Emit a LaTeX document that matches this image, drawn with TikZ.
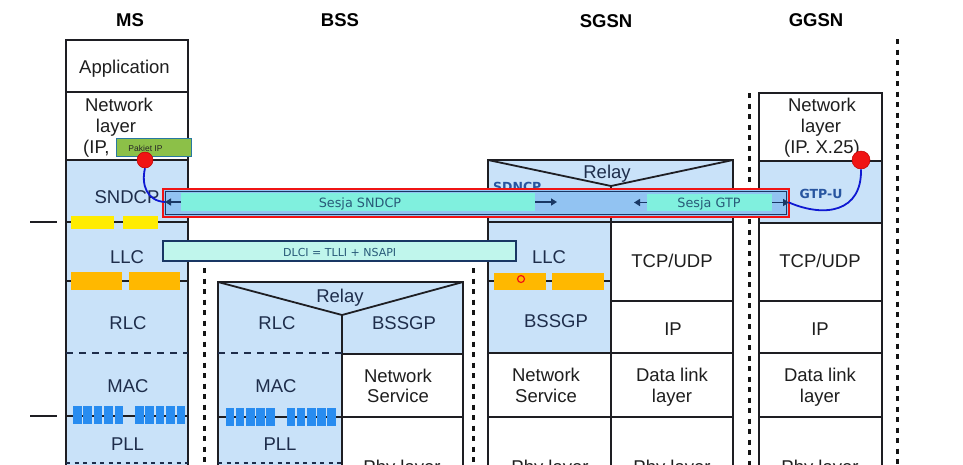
\documentclass[tikz,border=0pt]{standalone}
\usepackage{fontspec}
\setmainfont{Liberation Sans}
\newfontfamily\vfont{DejaVu Sans}
\usetikzlibrary{arrows.meta}
\definecolor{layB}{RGB}{201,226,249}
\definecolor{lineC}{RGB}{30,30,35}
\definecolor{txtB}{RGB}{30,45,75}
\definecolor{txtW}{RGB}{30,30,30}
\definecolor{barB}{RGB}{146,195,242}
\definecolor{cyanB}{RGB}{128,240,222}
\definecolor{cyanL}{RGB}{192,246,236}
\definecolor{navy}{RGB}{25,55,100}
\definecolor{tealT}{RGB}{40,90,120}
\definecolor{pakG}{RGB}{140,192,72}
\definecolor{pakE}{RGB}{40,120,160}
\definecolor{yel}{RGB}{255,236,0}
\definecolor{ora}{RGB}{255,184,0}
\definecolor{blk}{RGB}{40,140,240}
\definecolor{curveB}{RGB}{15,25,210}
\definecolor{gtpT}{RGB}{40,85,160}
\definecolor{dotC}{RGB}{20,20,20}
\definecolor{redC}{RGB}{240,20,20}
\tikzset{
  lyr/.style={draw=lineC, line width=1.8pt},
  dashl/.style={draw=txtB, line width=1.6pt, dash pattern=on 7pt off 6pt},
  dotl/.style={draw=txtB, line width=1.5pt, dash pattern=on 4pt off 4.5pt},
  vdot/.style={draw=dotC, line width=3pt, dash pattern=on 5pt off 5.5pt},
  lbl/.style={anchor=base, inner sep=0pt, font=\fontsize{18.5}{21}\selectfont},
  lb/.style={lbl, text=txtB},
  lw/.style={lbl, text=txtW},
  hdr/.style={anchor=base, inner sep=0pt, font=\bfseries\fontsize{18.5}{21}\selectfont, text=black},
  arr/.style={draw=navy, line width=1.8pt, -{Triangle[length=6pt,width=7pt]}},
  curve/.style={draw=curveB, line width=1.8pt},
  reddot/.style={circle, fill=redC, draw=red!75!black, line width=0.5pt, inner sep=0pt},
  session/.style={fill=cyanB, inner sep=0pt, outer sep=0pt, anchor=north west},
  stxt/.style={anchor=base, inner sep=0pt, font=\vfont\fontsize{12.8}{14}\selectfont, text=tealT},
}
\begin{document}
\begin{tikzpicture}[x=1pt,y=-1pt]
\useasboundingbox (0,0) rectangle (963,464);
\clip (0,0) rectangle (963,464);
% ---------------- headers
\node[hdr] (hMS) at (130,26) {MS};
\node[hdr] (hBSS) at (340,26) {BSS};
\node[hdr] (hSGSN) at (606,27) {SGSN};
\node[hdr] (hGGSN) at (816,26) {GGSN};
% ---------------- MS column
\fill[white] (66,40) rectangle (188,160);
\fill[layB] (66,160) rectangle (188,480);
\draw[lyr] (66,480) -- (66,40) -- (188,40) -- (188,480);
\draw[lyr] (66,92) -- (188,92);
\draw[lyr] (66,160) -- (188,160);
\draw[lyr] (66,222) -- (188,222);
\draw[lyr] (66,281) -- (188,281);
\draw[dashl] (66,353) -- (188,353);
\draw[lyr] (66,416) -- (188,416);
\draw[dotl] (66,463) -- (188,463);
\draw[lyr] (30,222) -- (57,222);
\draw[lyr] (30,416) -- (57,416);
\fill[yel] (71,216) rectangle (114,229);
\fill[yel] (123,216) rectangle (158,229);
\fill[ora] (71,272) rectangle (122,290);
\fill[ora] (129,272) rectangle (180,290);
\foreach \i in {0,...,4} {
  \fill[blk] ({73+\i*10.4},406) rectangle ++(8.5,18);
  \fill[blk] ({135+\i*10.4},406) rectangle ++(8.5,18);
}
\node[lw] (tApp) at (124.5,73) {Application};
\node[lw] (tMSnet1) at (119,111) {Network};
\node[lw] (tMSnet2) at (116,132) {layer};
\node[lw, anchor=base west] (tMSnet3) at (83,153) {(IP,};
\node[lb] (tMSsndcp) at (127,203.5) {SNDCP};
\node[lb] (tMSllc) at (127,263) {LLC};
\node[lb] (tMSrlc) at (128,329) {RLC};
\node[lb] (tMSmac) at (128,392) {MAC};
\node[lb] (tMSpll) at (127.5,450) {PLL};
% ---------------- BSS column
\fill[layB] (218,282) rectangle (463,354);
\fill[layB] (218,354) rectangle (342,480);
\fill[white] (342,354) rectangle (463,480);
\draw[lyr] (218,480) -- (218,282) -- (463,282) -- (463,480);
\draw[lyr] (218,282) -- (342,315) -- (463,282);
\draw[lyr] (342,315) -- (342,480);
\draw[lyr] (342,354) -- (463,354);
\draw[lyr] (342,417) -- (463,417);
\draw[dashl] (218,353) -- (342,353);
\draw[lyr] (218,417) -- (342,417);
\draw[dotl] (218,463) -- (342,463);
\foreach \i in {0,...,4} {
  \fill[blk] ({226+\i*10.1},408) rectangle ++(8.3,18);
  \fill[blk] ({287+\i*10.1},408) rectangle ++(8.3,18);
}
\node[lb] (tBrelay) at (340,302) {Relay};
\node[lb] (tBrlc) at (277,329) {RLC};
\node[lb] (tBbssgp) at (404,329) {BSSGP};
\node[lb] (tBmac) at (276,392) {MAC};
\node[lb] (tBpll) at (280,450) {PLL};
\node[lw] (tBns1) at (398,382) {Network};
\node[lw] (tBns2) at (398,402) {Service};
\node[lw] (tBphy) at (402,473) {Phy layer};
% ---------------- SGSN column
\fill[layB] (488,160) rectangle (733,222);
\fill[layB] (488,222) rectangle (611,353);
\fill[white] (611,222) rectangle (733,480);
\fill[white] (488,353) rectangle (611,480);
\draw[lyr] (488,480) -- (488,160) -- (733,160) -- (733,480);
\draw[lyr] (488,160) -- (611,186) -- (733,160);
\draw[lyr] (611,186) -- (611,480);
\draw[lyr] (488,222) -- (733,222);
\draw[lyr] (488,281) -- (611,281);
\draw[lyr] (611,301) -- (733,301);
\draw[lyr] (488,353) -- (733,353);
\draw[lyr] (488,417) -- (733,417);
\fill[ora] (494,273) rectangle (546,290);
\fill[ora] (552,273) rectangle (604,290);
\node[draw=redC, circle, line width=1.2pt, minimum size=7pt, inner sep=0pt] (cursor) at (521,279) {};
\node[anchor=north west, inner sep=0pt, font=\vfont\bfseries\fontsize{12.5}{14}\selectfont, text=gtpT] (tSdncp) at (493,182) {SDNCP};
\node[lb] (tSrelay) at (607,178) {Relay};
\node[lb] (tSllc) at (549,263) {LLC};
\node[lb] (tSbssgp) at (556,327) {BSSGP};
\node[lw] (tSns1) at (546,381) {Network};
\node[lw] (tSns2) at (546,402) {Service};
\node[lw] (tSphy1) at (550,473) {Phy layer};
\node[lw] (tStcp) at (672,267) {TCP/UDP};
\node[lw] (tSip) at (673,335) {IP};
\node[lw] (tSdl1) at (672,381) {Data link};
\node[lw] (tSdl2) at (672,402) {layer};
\node[lw] (tSphy2) at (672,473) {Phy layer};
% ---------------- GGSN column
\fill[white] (759,93) rectangle (882,161);
\fill[layB] (759,161) rectangle (882,223);
\fill[white] (759,223) rectangle (882,480);
\draw[lyr] (759,480) -- (759,93) -- (882,93) -- (882,480);
\draw[lyr] (759,161) -- (882,161);
\draw[lyr] (759,223) -- (882,223);
\draw[lyr] (759,301) -- (882,301);
\draw[lyr] (759,353) -- (882,353);
\draw[lyr] (759,417) -- (882,417);
\node[lw] (tGnet1) at (822,111) {Network};
\node[lw] (tGnet2) at (821,132) {layer};
\node[lw] (tGnet3) at (822,153) {(IP. X.25)};
\node[anchor=base, inner sep=0pt, font=\vfont\bfseries\fontsize{12.5}{14}\selectfont, text=gtpT] (tGtpu) at (821,198) {GTP-U};
\node[lw] (tGtcp) at (820,267) {TCP/UDP};
\node[lw] (tGip) at (820,335) {IP};
\node[lw] (tGdl1) at (820,381) {Data link};
\node[lw] (tGdl2) at (820,402) {layer};
\node[lw] (tGphy) at (820,473) {Phy layer};
% ---------------- dotted separators
\draw[vdot] (204,268) -- (204,470);
\draw[vdot] (473,268) -- (473,470);
\draw[vdot] (749,93) -- (749,470);
\draw[vdot] (897,39) -- (897,470);
% ---------------- DLCI bar
\node[draw=navy, line width=1.2pt, fill=cyanL, minimum width=353pt, minimum height=20pt, inner sep=0pt, outer sep=0pt, anchor=north west] (dlci) at (163,241) {};
\node[stxt, font=\vfont\fontsize{11}{13}\selectfont] (tDlci) at (339.7,256) {DLCI = TLLI + NSAPI};
% ---------------- session bar
\node[draw=redC, line width=1.8pt, fill=barB, minimum width=626pt, minimum height=28pt, inner sep=0pt, outer sep=0pt, anchor=north west] (sessbar) at (163,189) {};
\draw[navy, line width=0.8pt] (165.2,191.2) rectangle (786.8,214.8);
\node[session, minimum width=354pt, minimum height=18pt] (sndcpT) at (181,193) {};
\node[session, minimum width=125pt, minimum height=17pt] (gtpT) at (647,194) {};
\node[stxt] (tSess1) at (360,207) {Sesja SNDCP};
\node[stxt] (tSess2) at (709,207) {Sesja GTP};
\coordinate (aL) at (165,202);
\coordinate (aR) at (557,202);
\coordinate (gL) at (634,202.5);
\coordinate (gR) at (789,202.5);
\draw[arr] (sndcpT.west) -- (aL);
\draw[arr] (sndcpT.east) -- (aR);
\draw[arr] (gtpT.west) -- (gL);
\draw[arr] (gtpT.east) -- (gR);
% ---------------- Pakiet IP and red dots
\node[draw=pakE, fill=pakG, line width=1pt, minimum width=75pt, minimum height=18pt, inner sep=0pt, outer sep=0pt, anchor=north west] (pak) at (116,138) {};
\node[anchor=base, inner sep=0pt, font=\fontsize{8.5}{10}\selectfont, text=black!85] (tPak) at (145.5,151) {Pakiet IP};
\node[reddot, minimum size=16pt] (dotMS) at (145,160) {};
\node[reddot, minimum size=18pt] (dotGG) at (861,160) {};
\draw[curve] (dotMS.south) .. controls (141,185) and (147,201) .. (aL);
\draw[curve] (dotGG.south) .. controls (862,212) and (825,218) .. (gR);
\end{tikzpicture}
\end{document}
